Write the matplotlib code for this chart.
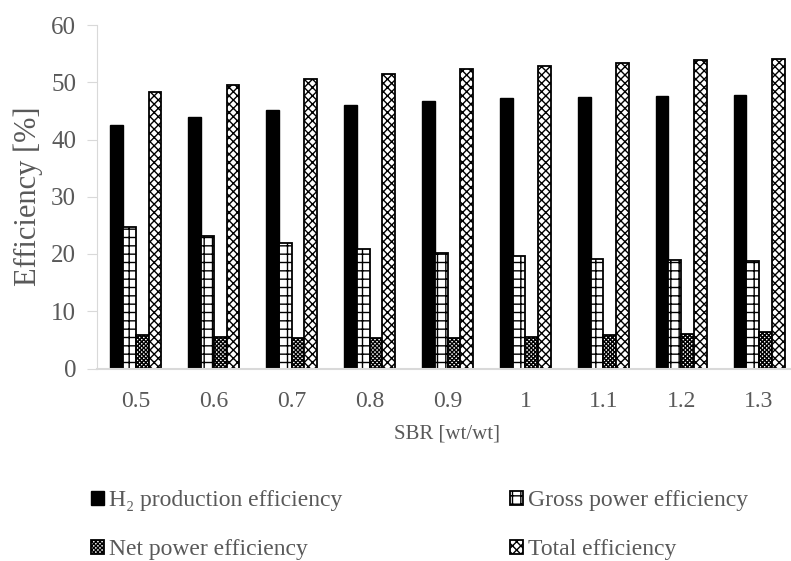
import numpy as np
import matplotlib
matplotlib.use("Agg")
import matplotlib.pyplot as plt

plt.rcParams['font.family'] = ['Liberation Serif', 'DejaVu Serif']
plt.rcParams['hatch.linewidth'] = 1.0

sbr = ['0.5', '0.6', '0.7', '0.8', '0.9', '1', '1.1', '1.2', '1.3']
h2_eff = [42.5, 44.0, 45.2, 46.1, 46.8, 47.2, 47.5, 47.6, 47.7]
gross_eff = [24.8, 23.2, 21.9, 20.9, 20.2, 19.6, 19.2, 18.9, 18.7]
net_eff = [5.8, 5.5, 5.4, 5.4, 5.4, 5.5, 5.8, 6.0, 6.3]
total_eff = [48.3, 49.6, 50.6, 51.5, 52.3, 52.9, 53.4, 53.8, 54.0]

grey = '#595959'
fig = plt.figure(figsize=(7.91, 5.61), dpi=100)
ax = fig.add_axes([97/791, 192.5/561, 701/791, 343.5/561])

x = np.arange(len(sbr))
w = 0.164
bars = []
bars.append(ax.bar(x - 1.5*w, h2_eff, w, color='black', edgecolor='black', linewidth=1))
bars.append(ax.bar(x - 0.5*w, gross_eff, w, color='white', edgecolor='black', linewidth=1.3, hatch='++'))
bars.append(ax.bar(x + 0.5*w, net_eff, w, color='white', edgecolor='black', linewidth=1.3, hatch='xxxxxxxx'))
bars.append(ax.bar(x + 1.5*w, total_eff, w, color='white', edgecolor='black', linewidth=1.3, hatch='xxxx'))

ax.set_xlim(-0.5, len(sbr) - 0.5)
ax.set_ylim(0, 60)
ax.set_yticks(range(0, 61, 10))
ax.set_xticks(x)
ax.set_xticklabels(sbr)
ax.tick_params(axis='x', length=0, pad=16, labelsize=17, labelcolor=grey)
ax.tick_params(axis='y', length=7, color='#d9d9d9', pad=8, labelsize=18, labelcolor=grey)
for s in ['top', 'right']:
    ax.spines[s].set_visible(False)
ax.spines['left'].set_color('#d9d9d9')
ax.spines['bottom'].set_color('#d9d9d9')
ax.spines['bottom'].set_linewidth(1.5)

ax.set_ylabel('Efficiency [%]', fontsize=22, color=grey, labelpad=6)
ax.set_xlabel('SBR [wt/wt]', fontsize=15, color=grey, labelpad=9)

labels = ['H₂ production efficiency', 'Gross power efficiency',
          'Net power efficiency', 'Total efficiency']
kw = dict(frameon=False, fontsize=17, labelcolor=grey, handlelength=0.55,
          handleheight=0.55, handletextpad=0.2, labelspacing=1.2, borderpad=0,
          borderaxespad=0)
leg1 = fig.legend([bars[0], bars[2]], [labels[0], labels[2]], loc='upper left',
                  bbox_to_anchor=(91/791, 1 - 490/561), **kw)
leg2 = fig.legend([bars[1], bars[3]], [labels[1], labels[3]], loc='upper left',
                  bbox_to_anchor=(510/791, 1 - 490/561), **kw)

fig.savefig('out.png', dpi=100)
